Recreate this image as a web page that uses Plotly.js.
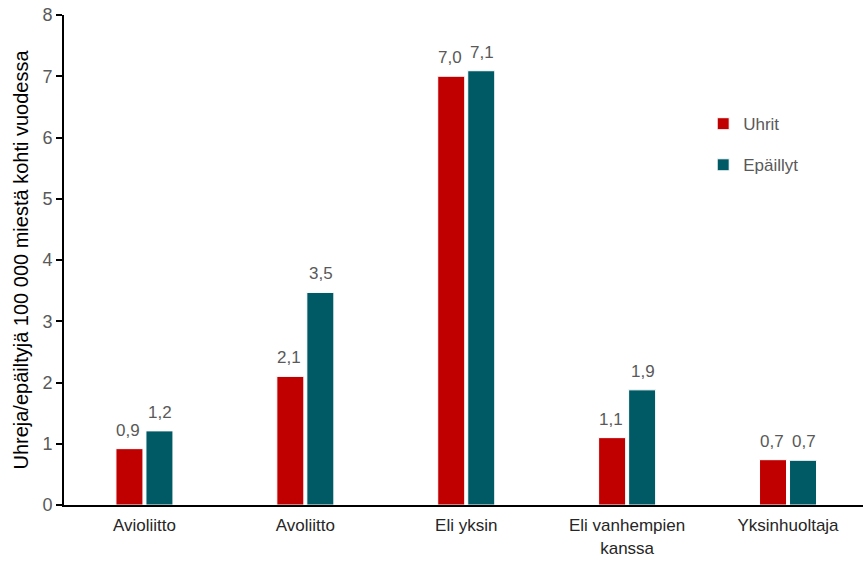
<!DOCTYPE html>
<html><head><meta charset="utf-8">
<script src="https://cdn.plot.ly/plotly-3.0.1.min.js"></script>
<style>body{margin:0;background:#fff}#chart{width:863px;height:562px}</style>
</head><body><div id="chart"></div>
<script>
const categories = ["Avioliitto", "Avoliitto", "Eli yksin", "Eli vanhempien<br>kanssa", "Yksinhuoltaja"];
const uhrit = [0.92, 2.1, 7.0, 1.1, 0.74];
const epaillyt = [1.21, 3.47, 7.09, 1.88, 0.73];
const yTicks = [0, 1, 2, 3, 4, 5, 6, 7, 8];

const fontFam = "Liberation Sans, Arial, sans-serif";
const gray = "#595959";

const traces = [
  {type: "bar", name: "Uhrit", x: categories, y: uhrit, legendgroup: "a",
   marker: {color: "#C00000", line: {color: "#ffffff", width: 1}}},
  {type: "bar", name: "Epäillyt", x: categories, y: epaillyt, legendgroup: "b",
   marker: {color: "#005A66", line: {color: "#ffffff", width: 1}}}
];

const fmt = v => v.toFixed(1).replace(".", ",");
const annotations = [];
[[uhrit, -16], [epaillyt, 16]].forEach(([vals, dx]) => {
  vals.forEach((v, i) => annotations.push({
    x: categories[i], y: v, xref: "x", yref: "y", text: fmt(v), showarrow: false,
    xshift: dx, yshift: 7, yanchor: "bottom",
    font: {size: 17, color: gray, family: fontFam}
  }));
});

const layout = {
  width: 863, height: 562,
  margin: {l: 64, r: 0, t: 15, b: 57},
  paper_bgcolor: "#fff", plot_bgcolor: "#fff",
  font: {family: fontFam, color: gray, size: 17},
  barmode: "group", bargap: 0.627, bargroupgap: 0.1,
  showlegend: true,
  legend: {x: 0.8, y: 0.814, xanchor: "left", yanchor: "top",
           tracegroupgap: 16, font: {size: 17, color: gray, family: fontFam},
           itemwidth: 30, bgcolor: "rgba(0,0,0,0)"},
  annotations: annotations,
  xaxis: {type: "category", range: [-0.5, 4.466], showline: true, linecolor: "#000", linewidth: 2,
          ticks: "", ticklabelstandoff: 4, tickfont: {size: 17, color: "#262626", family: fontFam}, fixedrange: true},
  yaxis: {range: [0, 8], tickvals: yTicks, showline: true, linecolor: "#000", linewidth: 2,
          ticks: "outside", ticklen: 6, tickwidth: 2, tickcolor: "#000", showgrid: false, zeroline: false,
          tickfont: {size: 18, color: gray, family: fontFam},
          title: {text: "Uhreja/epäiltyjä 100 000 miestä kohti vuodessa", standoff: 8,
                  font: {size: 20, color: "#000", family: fontFam}}}
};
Plotly.newPlot("chart", traces, layout, {displayModeBar: false, staticPlot: true});
</script></body></html>
